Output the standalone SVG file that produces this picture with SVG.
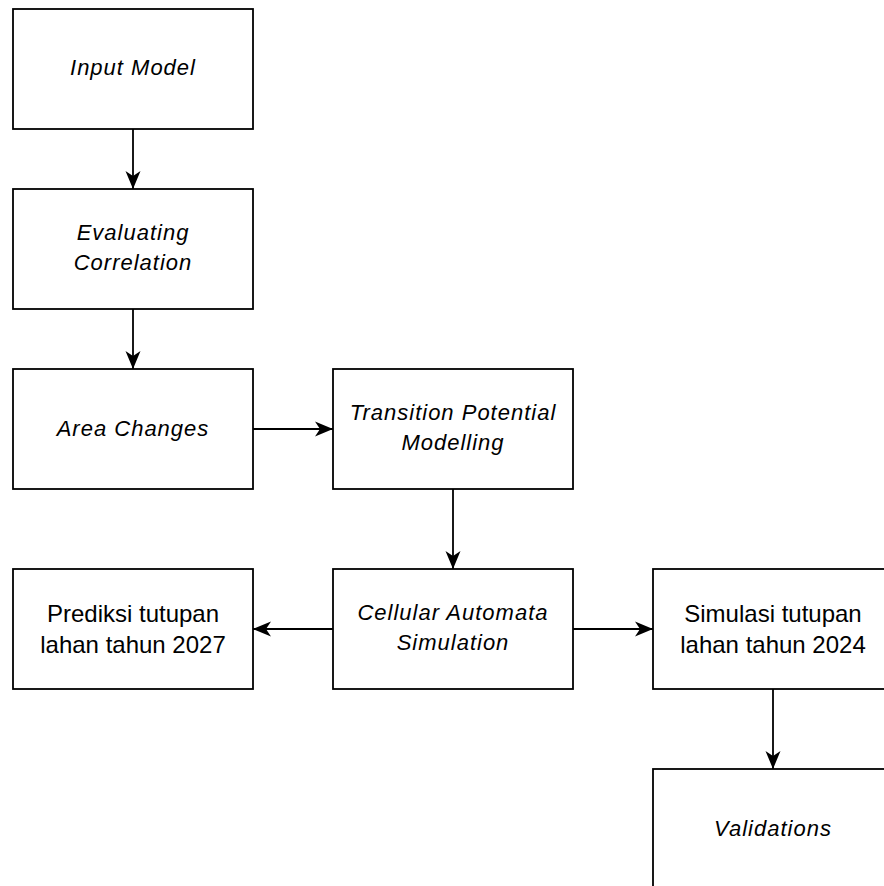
<svg xmlns="http://www.w3.org/2000/svg" width="884" height="886" viewBox="0 0 884 886">
<style>
.box{fill:#fff;stroke:#000;stroke-width:1.8}
.it{font-family:"Liberation Sans",Arial,sans-serif;font-style:italic;font-size:22px;letter-spacing:1px;fill:#000;text-anchor:middle}
.nt{font-family:"Liberation Sans",Arial,sans-serif;font-size:24px;fill:#000;text-anchor:middle}
.edge{stroke:#000;stroke-width:1.8;fill:none;marker-end:url(#arr)}
</style>
<defs>
<marker id="arr" markerUnits="userSpaceOnUse" markerWidth="19" markerHeight="16" refX="18" refY="8" orient="auto">
<path d="M0,0.5 L18,8 L0,15.5 L5,8 Z" fill="#000"/>
</marker>
</defs>
<rect width="884" height="886" fill="#fff"/>
<g id="edges">
<line class="edge" x1="133" y1="129" x2="133" y2="189"/>
<line class="edge" x1="133" y1="309" x2="133" y2="369"/>
<line class="edge" x1="253" y1="429" x2="333" y2="429"/>
<line class="edge" x1="453" y1="489" x2="453" y2="569"/>
<line class="edge" x1="333" y1="629" x2="253" y2="629"/>
<line class="edge" x1="573" y1="629" x2="653" y2="629"/>
<line class="edge" x1="773" y1="689" x2="773" y2="769"/>
</g>
<g id="input-model">
<rect class="box" x="13" y="9" width="240" height="120"/>
<text class="it" x="133" y="75">Input Model</text>
</g>
<g id="evaluating-correlation">
<rect class="box" x="13" y="189" width="240" height="120"/>
<text class="it" x="133" y="240">Evaluating</text>
<text class="it" x="133" y="270">Correlation</text>
</g>
<g id="area-changes">
<rect class="box" x="13" y="369" width="240" height="120"/>
<text class="it" x="133" y="436">Area Changes</text>
</g>
<g id="transition-potential">
<rect class="box" x="333" y="369" width="240" height="120"/>
<text class="it" x="453" y="420">Transition Potential</text>
<text class="it" x="453" y="450">Modelling</text>
</g>
<g id="cellular-automata">
<rect class="box" x="333" y="569" width="240" height="120"/>
<text class="it" x="453" y="620">Cellular Automata</text>
<text class="it" x="453" y="650">Simulation</text>
</g>
<g id="prediksi">
<rect class="box" x="13" y="569" width="240" height="120"/>
<text class="nt" x="133" y="622">Prediksi tutupan</text>
<text class="nt" x="133" y="653">lahan tahun 2027</text>
</g>
<g id="simulasi">
<rect class="box" x="653" y="569" width="240" height="120"/>
<text class="nt" x="773" y="622">Simulasi tutupan</text>
<text class="nt" x="773" y="653">lahan tahun 2024</text>
</g>
<g id="validations">
<rect class="box" x="653" y="769" width="240" height="120"/>
<text class="it" x="773" y="836">Validations</text>
</g>
</svg>
